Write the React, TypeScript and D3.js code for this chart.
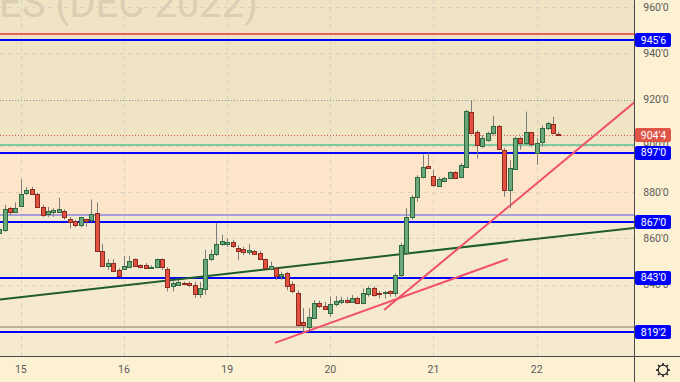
import React from 'react';
import * as d3 from 'd3';

// bar index of first candle (day "15" session starts at index 0)
const firstIndex = -4;
const opens = [862.25,863.5,873.25,871.5,874,879.5,881.25,879.25,873.5,870.5,871.5,871.25,872,868.5,867.25,865.75,868.25,868,870.75,854.5,848,849.5,846.25,846.75,847.75,851,848.25,848.25,847.25,847.5,851,846.75,839.25,840,840.75,840.75,840,835.75,838,851,853,857.5,857.5,858.25,856,855.25,854,854.5,853.75,851,846.5,847.25,843.5,845,840.25,836.5,824,821.75,825.5,832,830.75,827.75,831.5,832.5,833.5,832.5,834.25,832,835.75,838.5,836.5,836.25,837.25,836.5,844,853.5,869,877.75,886.5,891.25,887,882.75,884.75,886,888.5,886.5,891,914.75,906,900,902.5,905.5,908.5,898.25,881,890,903.5,901,905.75,896.75,901.5,907.5,909.25,905];
const highs = [865,874.5,873.5,875.5,885.5,882.25,882.25,879.75,874.5,873.5,873,877.5,872.5,869.25,868,869.25,868.5,876.75,875.5,857.5,851,851,847,852.25,852.25,851.25,848.75,849.25,848.25,851.25,851.25,847.5,842,842,841.25,841.25,841.25,841,855,855,866.5,861.5,860,859.25,857,856.25,857.5,855,854.5,851.25,850,847.75,845.5,845.5,841.25,837.5,829.75,829.75,833.25,833,832.5,834.75,835,834.75,834.5,835.5,834.75,838.25,839.25,839.25,837.25,837.25,837.5,844.75,858,873,878.75,887.25,896.25,897,889.5,886.5,886.5,889,889,892.5,915.5,919.75,906.75,904.5,906,913,909,899,893.75,904,904,914.75,906,903.25,908.75,910.25,912.5,906];
const lows = [861.5,862.75,870,871,873.5,878.75,878.75,873,869.25,869.25,869.25,871,868,864.25,864.75,864.75,865,867,854,847.75,846.25,845.75,843.5,846.25,847.5,847.75,847,846.75,847,847,846.25,837,837,839.75,839.75,839,834.25,834.25,835.5,850.25,852.25,856.75,856.25,855.75,850.5,852.75,852.75,853,850.5,846.75,846.25,842,842,837.5,836.25,821.75,819.25,820,825.25,829.75,829,826,830.5,831.5,831.75,832,831.75,831.5,834.75,834.75,834,834,834.75,834.75,842.75,852.75,868,875.75,886,890,882.25,882.25,884.25,885.5,886,886,890.5,905.25,894.5,899,901.75,904.5,898.25,878,873,889.5,898.25,900.25,899.5,891.75,899.5,906.75,905,904.5];
const closes = [864,872.75,871.5,873.25,879,881,879,873.5,870,872,872.25,872.5,869,867,865.75,869,867.25,870.5,854.5,848,849.5,846,843.75,848,850.25,848,847.75,847.25,847.5,851,847.5,839,840.5,841,840.25,839.75,835.75,838.5,851,853.25,857.5,859,858.5,856.5,854.5,854,855,853.25,851,847.25,848,843.5,844.75,839.25,837,822.5,822.5,825.75,832,830.75,829.5,831.5,833,833.5,832.5,834.25,832,836.5,838.5,835.5,836,836.75,836.25,844,857,869,877.75,886.5,891,890.25,883,885.5,886.25,888.5,886.25,891.75,915,905.5,900.25,903.5,905.5,908.5,898.5,881,890.25,903.25,901,905.75,900.75,901,907.75,909.75,905.5,904.5];

const barsPerDay = 19;
const dayLabels = ['15', '16', '19', '20', '21', '22'];
const priceTicks = [960, 940, 920, 900, 880, 860, 840];
const levelPrices = [945.75, 897, 867, 843, 819.25];
const lastPrice = 904.5;
const sessionHigh = 919.75;
const companionRed = 948.25;
const companionGreen = 900.25;
const companionPurple = 870.25;
const companionGray = 821.75;
// trend lines: [barIndex, price]
const trendGreen = [[-4, 833.5], [113, 864.5]];
const trendRedA = [[46.8, 814.75], [89.7, 851]];
const trendRedB = [[66.9, 829], [113, 918.75]];
const titleText = 'ES (DEC 2022)';

const fmt = (p: number) => {
  const i = Math.floor(p);
  const f = Math.round((p - i) * 8);
  return `${i}'${f}`;
};

export default function App() {
  const W = 680, H = 382, plotR = 634, plotB = 356;
  const x = d3.scaleLinear().domain([0, 113]).range([20.8, 634.4]);
  const y = d3.scaleLinear().domain([820, 960]).range([330.75, 7]);
  const bars = opens.map((o, k) => ({ i: k + firstIndex, o, h: highs[k], l: lows[k], c: closes[k] }));
  const crisp = (v: number) => Math.round(v) + 0.5;
  const line = d3.line<number[]>().x(d => x(d[0])).y(d => y(d[1]));
  const font = 'Roboto, "Liberation Sans", sans-serif';

  const hLine = (p: number, color: string, width: number, dash?: string, key?: string) => (
    <line key={key} x1={0} x2={plotR} y1={width % 2 === 1 ? crisp(y(p)) : Math.round(y(p))} y2={width % 2 === 1 ? crisp(y(p)) : Math.round(y(p))}
      stroke={color} strokeWidth={width} strokeDasharray={dash} />
  );

  const gear = () => {
    const cx = 663, cy = 370;
    const teeth = d3.range(8).map(k => {
      const a = (k * Math.PI) / 4;
      return <line key={k} x1={cx + Math.cos(a) * 4.5} y1={cy + Math.sin(a) * 4.5} x2={cx + Math.cos(a) * 7} y2={cy + Math.sin(a) * 7} stroke="#222" strokeWidth={1.6} />;
    });
    return <g>{teeth}<circle cx={cx} cy={cy} r={4.8} fill="#fdf1d3" stroke="#222" strokeWidth={1.2} /></g>;
  };

  return (
    <svg width={W} height={H} style={{ position: 'absolute', left: 0, top: 0, display: 'block' }} fontFamily={font}>
      <defs>
        <clipPath id="plot"><rect x={0} y={0} width={plotR} height={plotB} /></clipPath>
      </defs>
      <rect x={0} y={0} width={W} height={H} fill="#fdf1d3" />
      <g clipPath="url(#plot)">
        <rect x={0} y={0} width={plotR} height={y(companionGreen)} fill="#efe5c4" />
        <rect x={0} y={y(companionGreen)} width={plotR} height={y(companionPurple) - y(companionGreen)} fill="#fce5c8" />
        <rect x={0} y={y(companionPurple)} width={plotR} height={plotB - y(companionPurple)} fill="#f5e9d0" />
        <text x={258} y={17} textAnchor="end" fontSize={40} fill="#dacfb3" fontFamily={font}>{titleText}</text>
        {priceTicks.map(p => (
          <line key={'g' + p} x1={0} x2={plotR} y1={crisp(y(p))} y2={crisp(y(p))} stroke="#d9d2c2" strokeWidth={1} strokeDasharray="4,4" />
        ))}
        {dayLabels.map((d, k) => (
          <line key={'v' + d} x1={crisp(x(k * barsPerDay))} x2={crisp(x(k * barsPerDay))} y1={0} y2={plotB} stroke="#d9d2c2" strokeWidth={1} strokeDasharray="4,4" />
        ))}
        {hLine(sessionHigh, '#9a9a9a', 1, '1,2', 'hi')}
        {hLine(companionRed, '#e53935', 1.5, undefined, 'cr')}
        {hLine(companionGreen, '#55c08e', 1.5, undefined, 'cg')}
        {hLine(companionPurple, '#8d86dc', 1.5, undefined, 'cp')}
        {hLine(companionGray, '#bdb39c', 2, undefined, 'cgy')}
        {hLine(lastPrice, '#e0524a', 1, '1,2', 'last')}
        {levelPrices.map(p => hLine(p, '#0000ff', 2, undefined, 'l' + p))}
        <path d={line(trendGreen) || ''} stroke="#1f5e2a" strokeWidth={2} fill="none" />
        <path d={line(trendRedA) || ''} stroke="#f2506a" strokeWidth={2} fill="none" />
        <path d={line(trendRedB) || ''} stroke="#f2506a" strokeWidth={2} fill="none" />
        {bars.map(b => {
          const cx = Math.round(x(b.i));
          const up = b.c >= b.o;
          const top = Math.round(y(Math.max(b.o, b.c)));
          const bot = Math.round(y(Math.min(b.o, b.c)));
          return (
            <g key={b.i}>
              <line x1={cx + 0.5} x2={cx + 0.5} y1={y(b.h)} y2={y(b.l)} stroke="#7d7d7d" strokeWidth={1} />
              <rect x={cx - 1.5} y={top + 0.5} width={4} height={Math.max(1, bot - top)}
                fill={up ? '#6aa87c' : '#e2503f'} stroke={up ? '#2f6a40' : '#8e2b20'} strokeWidth={1} />
            </g>
          );
        })}
      </g>
      <line x1={0} x2={W} y1={plotB + 0.5} y2={plotB + 0.5} stroke="#4a4a4a" strokeWidth={1} />
      <line x1={plotR + 0.5} x2={plotR + 0.5} y1={0} y2={H} stroke="#4a4a4a" strokeWidth={1} />
      {priceTicks.map(p => (
        <text key={'t' + p} x={656} y={y(p)} dy="0.35em" textAnchor="middle" fontSize={10.5} fill="#5a5a5a">{fmt(p)}</text>
      ))}
      {dayLabels.map((d, k) => (
        <text key={'d' + d} x={x(k * barsPerDay)} y={369} dy="0.35em" textAnchor="middle" fontSize={10.5} fill="#5a5a5a">{d}</text>
      ))}
      <g>
        <rect x={635} y={Math.round(y(lastPrice)) - 7} width={36} height={14} rx={2} fill="#df5548" />
        <text x={653.5} y={y(lastPrice)} dy="0.35em" textAnchor="middle" fontSize={10.5} fill="#fff">{fmt(lastPrice)}</text>
      </g>
      {levelPrices.map(p => (
        <g key={'lb' + p}>
          <rect x={635} y={Math.round(y(p)) - 7} width={36} height={14} rx={2} fill="#0000ff" />
          <text x={653.5} y={y(p)} dy="0.35em" textAnchor="middle" fontSize={10.5} fill="#fff">{fmt(p)}</text>
        </g>
      ))}
      {gear()}
    </svg>
  );
}
